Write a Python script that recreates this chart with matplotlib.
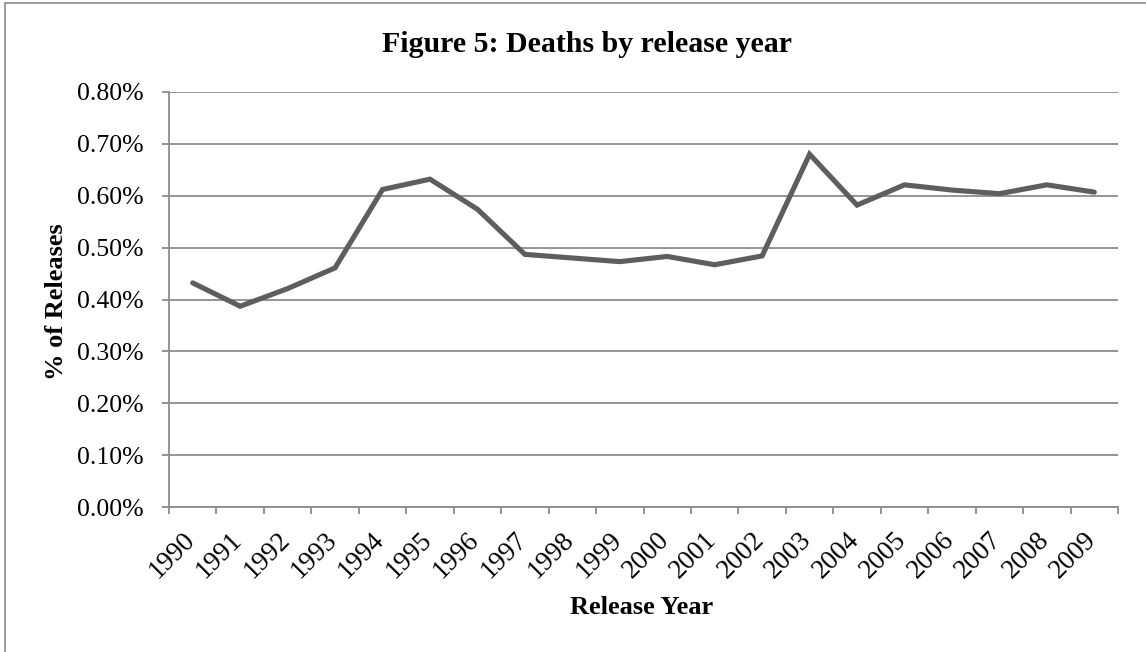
import numpy as np
import matplotlib
matplotlib.use("Agg")
import matplotlib.pyplot as plt
from matplotlib.patches import Rectangle
from matplotlib.ticker import FixedLocator, PercentFormatter
from matplotlib.transforms import ScaledTranslation

# deaths as % of releases, by release year
years = ["1990", "1991", "1992", "1993", "1994", "1995", "1996", "1997", "1998", "1999",
         "2000", "2001", "2002", "2003", "2004", "2005", "2006", "2007", "2008", "2009"]
pct_deaths = [0.432, 0.387, 0.421, 0.461, 0.612, 0.632, 0.574, 0.487, 0.480, 0.473,
              0.483, 0.467, 0.484, 0.680, 0.582, 0.621, 0.611, 0.604, 0.621, 0.607]
yticks = [0.0, 0.1, 0.2, 0.3, 0.4, 0.5, 0.6, 0.7, 0.8]

plt.rcParams['font.family'] = ['Liberation Serif', 'DejaVu Serif']
W, H = 1146, 652
fig = plt.figure(figsize=(W / 100, H / 100), dpi=100)
fig.patch.set_facecolor('white')

# chart-area border (left and top edges visible)
fig.patches.append(Rectangle((5 / W, -0.05), 1.2, 1 - 3 / H + 0.05,
                             transform=fig.transFigure, fill=False,
                             edgecolor='#8a8a8a', linewidth=1.2))

ax = fig.add_axes([169 / W, 1 - 507 / H, (1118 - 169) / W, (507 - 92) / H])
x = np.arange(len(years))
ax.plot(x, pct_deaths, color='#5e5e5e', linewidth=3.7, solid_joinstyle='miter',
        solid_capstyle='round', zorder=3)

gcol = '#8c8c8c'
ax.set_ylim(0, 0.8)
ax.set_yticks(yticks)
ax.yaxis.set_major_formatter(PercentFormatter(decimals=2))
ax.grid(axis='y', color=gcol, linewidth=1.3)
ax.set_axisbelow(True)

# category boundaries get tick marks, centres get the labels
ax.set_xlim(-0.5, len(years) - 0.5)
ax.xaxis.set_major_locator(FixedLocator(np.arange(-0.5, len(years), 1.0)))
ax.xaxis.set_major_formatter(plt.NullFormatter())
ax.xaxis.set_minor_locator(FixedLocator(x))
ax.set_xticklabels(years, minor=True, rotation=45, ha='right', va='top',
                   rotation_mode='default', fontsize=19.5)
ax.tick_params(axis='x', which='major', length=5, width=1.3, color=gcol, direction='out')
ax.tick_params(axis='x', which='minor', length=0, pad=13)
ax.tick_params(axis='y', length=5, width=1.3, color=gcol, labelsize=18.5, pad=13.5)

# nudge the slanted year labels right so they end just past the category centre
shift = ScaledTranslation(7 / 100, -2 / 100, fig.dpi_scale_trans)
for lbl in ax.get_xticklabels(minor=True):
    lbl.set_transform(lbl.get_transform() + shift)

for s in ['top', 'right']:
    ax.spines[s].set_visible(False)
for s in ['left', 'bottom']:
    ax.spines[s].set_color(gcol)
    ax.spines[s].set_linewidth(1.3)

fig.text(587 / W, 1 - 44 / H, "Figure 5: Deaths by release year", ha='center', va='center',
         fontsize=21.5, fontweight='bold')
fig.text(642 / W, 1 - 608 / H, "Release Year", ha='center', va='center',
         fontsize=19, fontweight='bold')
fig.text(57 / W, 1 - 302 / H, "% of Releases", ha='center', va='center', rotation=90,
         fontsize=19, fontweight='bold')

fig.savefig("out.png", dpi=100)
